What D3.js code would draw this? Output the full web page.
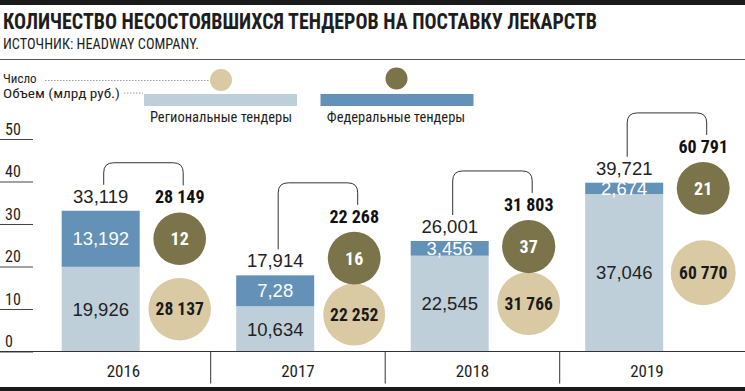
<!DOCTYPE html>
<html><head><meta charset="utf-8">
<script src="https://cdn.jsdelivr.net/npm/d3@7"></script>
<style>body{margin:0;background:#fff} svg{display:block}</style>
</head><body><svg id="c" width="745" height="391"></svg>
<script>
const years = ["2016", "2017", "2018", "2019"];
const regionalVolume = [19.926, 10.634, 22.545, 37.046];
const federalVolume = [13.192, 7.28, 3.456, 2.674];
const totalVolume = [33.119, 17.914, 26.001, 39.721];
const regionalCount = [28137, 22252, 31766, 60770];
const federalCount = [12, 16, 37, 21];
const totalCount = [28149, 22268, 31803, 60791];
const yTicks = [0, 10, 20, 30, 40, 50];

const NARROW = "'Liberation Sans Narrow','Arial Narrow','Roboto Condensed',sans-serif";
const SANS = "'Liberation Sans',Arial,Helvetica,sans-serif";
const C = {reg: "#bfcfda", fed: "#6391b8", olive: "#7b7349", beige: "#d9caa4", ink: "#1e1e1e"};

const svg = d3.select("#c");
const x = d3.scaleBand().domain(years).range([36.2, 734.2]).padding(0);
const y = d3.scaleLinear().domain([0, 50]).range([351.5, 139]);
const r = d3.scalePow().exponent(0.25).domain([0, 61000]).range([25.5, 32.5]);
const vfmt = v => String(v).replace(".", ",");
const cfmt = d3.formatLocale({decimal: ",", thousands: " ", grouping: [3], currency: ["", ""]}).format(",d");

// header
svg.append("rect").attr("x", 0).attr("y", 0).attr("width", 745).attr("height", 5).attr("fill", "#1a1a1a");
svg.append("rect").attr("x", 0).attr("y", 387).attr("width", 745).attr("height", 4).attr("fill", "#1a1a1a");
svg.append("text").attr("x", 3).attr("y", 28.5).text("КОЛИЧЕСТВО НЕСОСТОЯВШИХСЯ ТЕНДЕРОВ НА ПОСТАВКУ ЛЕКАРСТВ")
  .attr("font-family", NARROW).attr("font-weight", 700).attr("font-size", 21.5).attr("fill", C.ink)
  .attr("textLength", 594).attr("lengthAdjust", "spacingAndGlyphs");
svg.append("text").attr("x", 3).attr("y", 48.5).text("ИСТОЧНИК: HEADWAY COMPANY.")
  .attr("font-family", NARROW).attr("font-size", 14).attr("fill", C.ink)
  .attr("textLength", 196).attr("lengthAdjust", "spacingAndGlyphs");
svg.append("line").attr("x1", 0).attr("x2", 745).attr("y1", 59.5).attr("y2", 59.5).attr("stroke", "#555");

// legend
const lg = svg.append("g").attr("font-family", NARROW).attr("fill", C.ink);
lg.append("text").attr("x", 3).attr("y", 83).attr("font-size", 13).text("Число");
lg.append("text").attr("x", 3).attr("y", 98).attr("font-size", 13).text("Объем (млрд руб.)")
  .attr("textLength", 117).attr("lengthAdjust", "spacingAndGlyphs");
lg.append("line").attr("x1", 45).attr("x2", 210).attr("y1", 80.5).attr("y2", 80.5)
  .attr("stroke", "#999").attr("stroke-dasharray", "1.5,1.5");
lg.append("line").attr("x1", 124).attr("x2", 143).attr("y1", 93).attr("y2", 93)
  .attr("stroke", "#999").attr("stroke-dasharray", "1.5,1.5");
lg.append("circle").attr("cx", 221).attr("cy", 80).attr("r", 11).attr("fill", C.beige);
lg.append("circle").attr("cx", 396.5).attr("cy", 78.5).attr("r", 11).attr("fill", C.olive);
lg.append("rect").attr("x", 144).attr("y", 94).attr("width", 153).attr("height", 12).attr("fill", C.reg);
lg.append("rect").attr("x", 320.5).attr("y", 94).attr("width", 153).attr("height", 12).attr("fill", C.fed);
lg.append("text").attr("x", 221).attr("y", 121.5).attr("text-anchor", "middle").attr("font-size", 14.5).text("Региональные тендеры");
lg.append("text").attr("x", 396).attr("y", 121.5).attr("text-anchor", "middle").attr("font-size", 14.5).text("Федеральные тендеры");

// y axis
const ya = svg.append("g").call(d3.axisRight(y).tickValues(yTicks).tickSize(33).tickFormat(d => d));
ya.select(".domain").remove();
ya.selectAll(".tick line").attr("stroke", "#444");
ya.selectAll(".tick text").attr("x", 5).attr("y", -5).attr("dy", 0).attr("text-anchor", "start")
  .attr("font-family", NARROW).attr("font-size", 16).attr("fill", C.ink);

// bars & circles
const data = years.map((yr, i) => ({yr, reg: regionalVolume[i], fed: federalVolume[i], tot: totalVolume[i],
  rc: regionalCount[i], fc: federalCount[i], tc: totalCount[i]}));
const BARW = 78;
data.forEach(d => {
  const bc = x(d.yr) + 25.5 + BARW / 2;
  const cc = bc + 79;
  const yReg = y(d.reg), yTop = y(d.reg + d.fed);
  const g = svg.append("g");
  g.append("rect").attr("x", bc - BARW / 2).attr("width", BARW).attr("y", yReg).attr("height", y(0) - yReg).attr("fill", C.reg);
  g.append("rect").attr("x", bc - BARW / 2).attr("width", BARW).attr("y", yTop).attr("height", yReg - yTop).attr("fill", C.fed);
  g.append("text").attr("x", bc).attr("y", (yReg + y(0)) / 2).attr("dy", "0.36em").attr("text-anchor", "middle")
    .attr("font-family", SANS).attr("font-size", 18.5).attr("fill", "#222").text(vfmt(d.reg));
  g.append("text").attr("x", bc).attr("y", (yReg + yTop) / 2).attr("dy", "0.36em").attr("text-anchor", "middle")
    .attr("font-family", SANS).attr("font-size", 18.5).attr("fill", "#fff").text(vfmt(d.fed));
  const yTot = y(d.tot);
  g.append("text").attr("x", bc).attr("y", yTot - 8).attr("text-anchor", "middle")
    .attr("font-family", SANS).attr("font-size", 18.5).attr("fill", "#222").text(vfmt(d.tot));

  const rb = r(d.rc), ro = r(d.fc);
  const by = Math.min((yReg + y(0)) / 2, y(0) - rb - 6);
  const oy = Math.min((yReg + yTop) / 2, by - rb - ro + 1);
  g.append("circle").attr("cx", cc).attr("cy", by).attr("r", rb).attr("fill", C.beige);
  g.append("circle").attr("cx", cc).attr("cy", oy).attr("r", ro).attr("fill", C.olive);
  g.append("text").attr("x", cc).attr("y", by).attr("dy", "0.36em").attr("text-anchor", "middle")
    .attr("font-family", NARROW).attr("font-weight", 700).attr("font-size", 17.5).attr("fill", "#1a1a1a").text(cfmt(d.rc));
  g.append("text").attr("x", cc).attr("y", oy).attr("dy", "0.36em").attr("text-anchor", "middle")
    .attr("font-family", NARROW).attr("font-weight", 700).attr("font-size", 18).attr("fill", "#fff").text(cfmt(d.fc));
  const oTop = oy - ro;
  g.append("text").attr("x", cc).attr("y", oTop - 9).attr("text-anchor", "middle")
    .attr("font-family", NARROW).attr("font-weight", 700).attr("font-size", 18).attr("fill", "#111").text(cfmt(d.tc));

  // bracket
  const lx = bc + 3, rx = cc + 3.5;
  const le = yTot - 26, re = oTop - 27;
  const top = Math.min(le, re) - 22, rad = 10;
  const p = d3.path();
  p.moveTo(lx, le); p.lineTo(lx, top + rad);
  p.quadraticCurveTo(lx, top, lx + rad, top);
  p.lineTo(rx - rad, top);
  p.quadraticCurveTo(rx, top, rx, top + rad);
  p.lineTo(rx, re);
  g.append("path").attr("d", p.toString()).attr("fill", "none").attr("stroke", "#333").attr("stroke-width", 1);
});

// x axis
svg.append("line").attr("x1", 0).attr("x2", 745).attr("y1", y(0)).attr("y2", y(0)).attr("stroke", "#333");
const xa = svg.append("g").attr("transform", `translate(0,${y(0)})`).call(d3.axisBottom(x).tickSize(0).tickPadding(0));
xa.select(".domain").remove();
xa.selectAll(".tick text").attr("y", 25).attr("dy", 0).attr("font-family", NARROW).attr("font-size", 17).attr("fill", C.ink);
svg.selectAll(".divider").data(years.slice(1)).join("line").attr("class", "divider")
  .attr("x1", d => x(d)).attr("x2", d => x(d)).attr("y1", y(0)).attr("y2", 383.5).attr("stroke", "#333");
</script></body></html>
